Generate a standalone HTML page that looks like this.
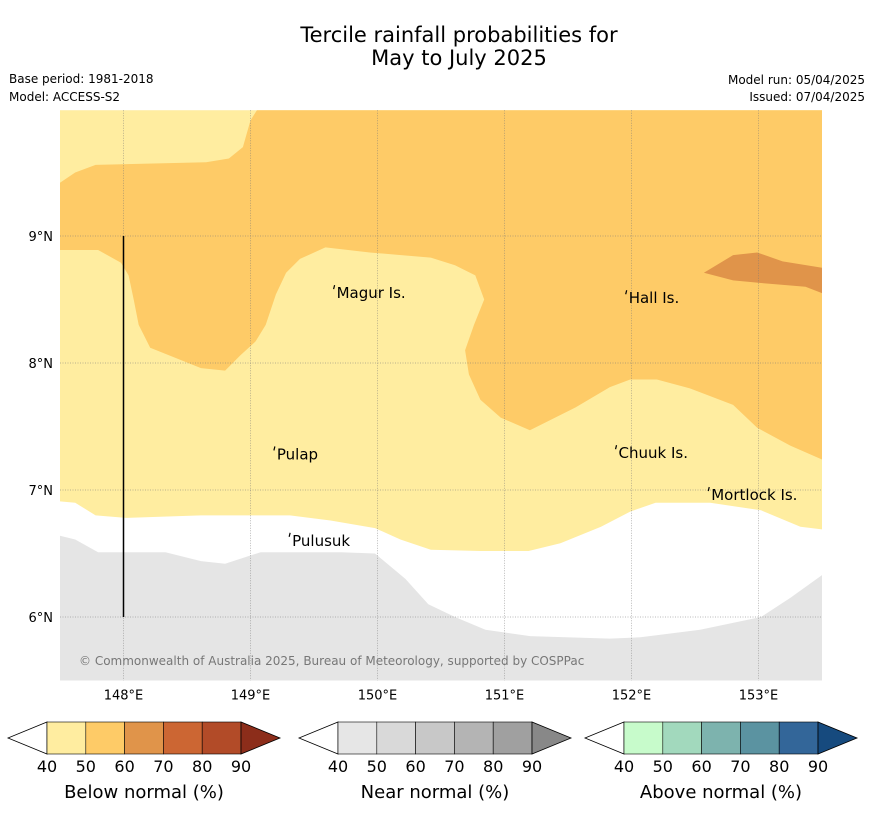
<!DOCTYPE html>
<html><head><meta charset="utf-8"><style>
body{margin:0;background:#fff;width:873px;height:816px;overflow:hidden;font-family:"DejaVu Sans","Liberation Sans",sans-serif}
svg text{font-family:"DejaVu Sans","Liberation Sans",sans-serif}
</style></head><body>
<svg id="s" width="873" height="816">
<text x="459" y="42" font-size="21" text-anchor="middle">Tercile rainfall probabilities for</text>
<text x="459" y="65" font-size="21" text-anchor="middle">May to July 2025</text>
<text x="9" y="83" font-size="12">Base period: 1981-2018</text>
<text x="9" y="101" font-size="12">Model: ACCESS-S2</text>
<text x="865" y="84" font-size="12" text-anchor="end">Model run: 05/04/2025</text>
<text x="865" y="101" font-size="12" text-anchor="end">Issued: 07/04/2025</text>
<g id="map"></g>
<g id="bars"></g>
</svg>
<script>
const lonTicks=[148,149,150,151,152,153];
const latTicks=[9,8,7,6];
const grayWhite=[[147.50,6.64],[147.62,6.61],[147.80,6.51],[148.33,6.51],[148.61,6.44],[148.80,6.42],[149.08,6.51],[149.71,6.51],[149.98,6.50],[150.22,6.30],[150.40,6.10],[150.61,6.00],[150.85,5.90],[151.20,5.85],[151.83,5.83],[152.07,5.84],[152.54,5.90],[153.02,6.00],[153.25,6.15],[153.50,6.33]];
const whiteYellow=[[147.50,6.91],[147.62,6.90],[147.78,6.80],[148.02,6.78],[148.61,6.80],[149.31,6.80],[149.63,6.76],[149.98,6.70],[150.18,6.61],[150.42,6.53],[150.81,6.52],[151.19,6.52],[151.44,6.58],[151.76,6.71],[151.99,6.83],[152.19,6.90],[152.62,6.90],[153.02,6.84],[153.33,6.71],[153.50,6.69]];
const topYellow=[[147.50,9.42],[147.62,9.50],[147.78,9.56],[148.65,9.58],[148.83,9.61],[148.94,9.70],[149.00,9.91],[149.05,9.99]];
const orangeYellow=[[147.50,8.89],[147.80,8.89],[147.98,8.79],[148.04,8.69],[148.08,8.50],[148.12,8.30],[148.21,8.12],[148.61,7.96],[148.80,7.94],[148.92,8.06],[149.04,8.17],[149.12,8.30],[149.20,8.54],[149.28,8.71],[149.39,8.82],[149.59,8.91],[149.94,8.87],[150.42,8.83],[150.61,8.77],[150.77,8.69],[150.84,8.50],[150.76,8.30],[150.69,8.10],[150.72,7.91],[150.81,7.71],[150.97,7.57],[151.20,7.47],[151.56,7.65],[151.83,7.81],[151.99,7.87],[152.20,7.87],[152.46,7.80],[152.80,7.67],[152.99,7.49],[153.25,7.35],[153.50,7.24]];
const darkOrange=[[152.57,8.71],[152.80,8.85],[152.99,8.87],[153.19,8.80],[153.50,8.75],[153.50,8.55],[153.37,8.60],[153.02,8.63],[152.80,8.65]];
const placeNames=["Magur Is.","Hall Is.","Pulap","Chuuk Is.","Mortlock Is.","Pulusuk"];
const placeLon=[149.67,151.97,149.20,151.89,152.62,149.32];
const placeLat=[8.55,8.51,7.28,7.29,6.96,6.60];
const barTicks=["40","50","60","70","80","90"];
const barTitles=["Below normal (%)","Near normal (%)","Above normal (%)"];
const barColors=[["#ffeda0","#fecb67","#e0944a","#cc6633","#b24b28","#8c2d1a"],["#e6e6e6","#d9d9d9","#c8c8c8","#b4b4b4","#a0a0a0","#888888"],["#c7fbcb","#a2d9bd","#7db3ae","#5b93a1","#336699","#164a7e"]];

const L=147.5,R=153.5,T=9.99,B=5.5;
const x=lon=>60+(lon-L)*127, y=lat=>236+(9-lat)*127;
const NS="http://www.w3.org/2000/svg";
const map=document.getElementById('map'), bars=document.getElementById('bars');
function mk(tag,at,parent){const e=document.createElementNS(NS,tag);for(const k in at)e.setAttribute(k,at[k]);parent.appendChild(e);return e;}
const pts=a=>a.map(p=>x(p[0]).toFixed(1)+","+y(p[1]).toFixed(1)).join(" ");
let e;
e=mk('rect',{x:x(L),y:y(T),width:x(R)-x(L),height:y(B)-y(T),fill:'#e5e5e5'},map);


e=mk('polygon',{points:pts([[L,T],...grayWhite,[R,T]]),fill:'#ffffff'},map);


e=mk('polygon',{points:pts([[L,T],...whiteYellow,[R,T]]),fill:'#ffeda0'},map);


e=mk('polygon',{points:pts([...topYellow,[R,T],...orangeYellow.slice().reverse()]),fill:'#fecb67'},map);


e=mk('polygon',{points:pts(darkOrange),fill:'#e0944a'},map);


lonTicks.forEach(v=>{
 e=mk('line',{x1:x(v),x2:x(v),y1:y(T),y2:y(B),stroke:'#777','stroke-width':0.5,'stroke-dasharray':'1,1.5'},map);
 
 
 e=mk('text',{x:x(v),y:y(B)+19,'font-size':13,'text-anchor':'middle'},map);e.textContent=v+"°E";
 
 
});
latTicks.forEach(v=>{
 e=mk('line',{x1:x(L),x2:x(R),y1:y(v),y2:y(v),stroke:'#777','stroke-width':0.5,'stroke-dasharray':'1,1.5'},map);
 
 
 e=mk('text',{x:x(L)-7,y:y(v)+5,'font-size':13,'text-anchor':'end'},map);e.textContent=v+"°N";
 
 
});
e=mk('line',{x1:x(148),x2:x(148),y1:y(9),y2:y(6),stroke:'#000','stroke-width':1.5},map);


placeNames.forEach((n,i)=>{
 e=mk('path',{d:`M${x(placeLon[i])-1},${y(placeLat[i])-8} l-1,4`,stroke:'#000','stroke-width':1.2},map);
 
 
 e=mk('text',{x:x(placeLon[i])+1,y:y(placeLat[i])+5,'font-size':15},map);e.textContent=n;
 
 
});
e=mk('text',{x:79,y:665,'font-size':12,fill:'#777'},map);e.textContent="© Commonwealth of Australia 2025, Bureau of Meteorology, supported by COSPPac";



const starts=[47,338,624],w=38.8;
starts.forEach((s,bi)=>{
 const cols=barColors[bi];
 e=mk('polygon',{points:`${s},722 ${s},754 ${s-39},738`,fill:'#fff',stroke:'#000','stroke-width':0.8},bars);
 
 
 for(let i=0;i<5;i++){
  e=mk('rect',{x:s+i*w,y:722,width:w,height:32,fill:cols[i],stroke:'#000','stroke-width':0.6},bars);
  
  
 }
 e=mk('polygon',{points:`${s+5*w},722 ${s+5*w},754 ${s+5*w+39},738`,fill:cols[5],stroke:'#000','stroke-width':0.8},bars);
 
 
 barTicks.forEach((t,i)=>{
  e=mk('text',{x:s+i*w,y:772,'font-size':16,'text-anchor':'middle'},bars);e.textContent=t;
  
  
 });
 e=mk('text',{x:s+2.5*w,y:798,'font-size':18,'text-anchor':'middle'},bars);e.textContent=barTitles[bi];
 
 
});
</script>
</body></html>
